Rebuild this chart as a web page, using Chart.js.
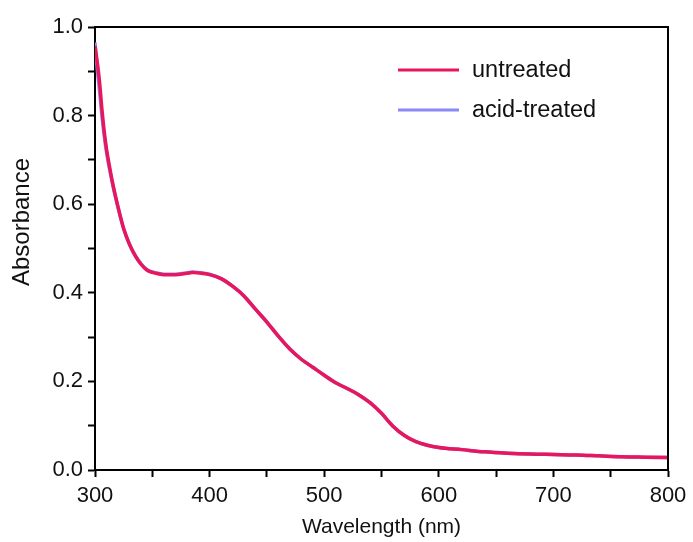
<!DOCTYPE html>
<html>
<head>
<meta charset="utf-8">
<script src="https://cdn.jsdelivr.net/npm/chart.js@4"></script>
<style>
html,body{margin:0;padding:0;background:#fff;}
#wrap{width:693px;height:542px;position:relative;}
</style>
</head>
<body>
<div id="wrap"><canvas id="c" width="693" height="542"></canvas></div>
<script>
// Wavelength (nm)
const wavelengths = [300,302,304,306,308,310,313,316,320,325,330,335,340,345,350,355,360,370,380,385,390,400,410,420,430,440,450,460,470,480,490,500,510,520,530,540,550,560,570,580,590,600,620,640,660,680,700,720,740,760,780,800];
// Absorbance, untreated
const untreated = [0.957,0.92,0.875,0.815,0.765,0.725,0.68,0.64,0.595,0.545,0.51,0.484,0.465,0.452,0.446,0.443,0.441,0.441,0.444,0.446,0.445,0.441,0.432,0.415,0.393,0.363,0.334,0.302,0.273,0.25,0.232,0.214,0.197,0.184,0.17,0.152,0.128,0.099,0.078,0.064,0.056,0.051,0.046,0.041,0.038,0.036,0.035,0.034,0.032,0.030,0.029,0.028];
// Absorbance, acid-treated
const acidTreated = [0.965,0.905,0.855,0.80,0.755,0.718,0.675,0.637,0.593,0.544,0.51,0.485,0.466,0.453,0.447,0.444,0.442,0.442,0.445,0.447,0.446,0.442,0.432,0.415,0.393,0.363,0.334,0.302,0.273,0.25,0.232,0.214,0.197,0.184,0.17,0.152,0.128,0.099,0.078,0.064,0.056,0.051,0.046,0.041,0.038,0.036,0.035,0.034,0.032,0.030,0.029,0.028];
const seriesNames = ['untreated','acid-treated'];
const xTickLabels = ['300','400','500','600','700','800'];
const yTickLabels = ['0.0','0.2','0.4','0.6','0.8','1.0'];

const FONT = '"Liberation Sans", Arial, sans-serif';
const RED = '#e8175d';
const BLUE = '#8a8af7';

const toPts = (ys) => wavelengths.map((x, i) => ({x, y: ys[i]}));

const frame = {
  id: 'frame',
  afterDatasetsDraw(chart) {
    const {ctx, chartArea: a} = chart;
    ctx.save();
    ctx.strokeStyle = '#000';
    ctx.lineWidth = 2;
    ctx.beginPath();
    ctx.moveTo(a.left, a.top);
    ctx.lineTo(a.right, a.top);
    ctx.lineTo(a.right, a.bottom);
    ctx.stroke();
    ctx.restore();
  },
  afterDraw(chart) {
    const {ctx} = chart;
    ctx.save();
    // y title
    ctx.fillStyle = '#111';
    ctx.font = '24px ' + FONT;
    ctx.textAlign = 'center';
    ctx.textBaseline = 'middle';
    ctx.translate(22, 222);
    ctx.rotate(-Math.PI / 2);
    ctx.fillText('Absorbance', 0, 0);
    ctx.restore();
    // legend inside plot
    ctx.save();
    const rows = [70, 110];
    chart.data.datasets.forEach((ds, i) => {
      const y = rows[i];
      ctx.strokeStyle = ds.borderColor;
      ctx.lineWidth = 3;
      ctx.beginPath();
      ctx.moveTo(398, y);
      ctx.lineTo(459, y);
      ctx.stroke();
      ctx.fillStyle = '#111';
      ctx.font = '23.5px ' + FONT;
      ctx.textAlign = 'left';
      ctx.textBaseline = 'middle';
      ctx.fillText(ds.label, 472, y + 1);
    });
    ctx.restore();
  }
};

new Chart(document.getElementById('c'), {
  type: 'line',
  data: {
    datasets: [
      {label: seriesNames[0], data: toPts(untreated), borderColor: RED, borderWidth: 3.5, pointRadius: 0, cubicInterpolationMode: 'monotone', fill: false},
      {label: seriesNames[1], data: toPts(acidTreated), borderColor: BLUE, borderWidth: 3.5, pointRadius: 0, cubicInterpolationMode: 'monotone', fill: false}
    ]
  },
  options: {
    responsive: false,
    animation: false,
    layout: {padding: {left: 0, right: 25, top: 27, bottom: 0}},
    plugins: {legend: {display: false}, tooltip: {enabled: false}},
    scales: {
      x: {
        type: 'linear', min: 300, max: 800,
        afterFit: (s) => { s.height = 72; },
        ticks: {
          stepSize: 50, color: '#111', padding: 6, maxRotation: 0, autoSkip: false,
          font: {family: FONT, size: 22},
          callback: (v) => { const i = xTickLabels.indexOf(String(v)); return i >= 0 ? xTickLabels[i] : ''; }
        },
        grid: {drawOnChartArea: false, tickLength: 7, tickWidth: 2, color: '#000'},
        border: {display: true, color: '#000', width: 2},
        title: {display: true, text: 'Wavelength (nm)', color: '#111', font: {family: FONT, size: 21}, padding: {top: 0, bottom: 2}}
      },
      y: {
        min: 0, max: 1,
        afterFit: (s) => { s.width = 95; },
        ticks: {
          stepSize: 0.1, color: '#111', padding: 5, autoSkip: false,
          font: {family: FONT, size: 22},
          callback: (v) => { const t = (Math.round(v * 10) / 10).toFixed(1); return yTickLabels.includes(t) ? t : ''; }
        },
        grid: {drawOnChartArea: false, tickLength: 7, tickWidth: 2, color: '#000'},
        border: {display: true, color: '#000', width: 2}
      }
    }
  },
  plugins: [frame]
});
</script>
</body>
</html>
